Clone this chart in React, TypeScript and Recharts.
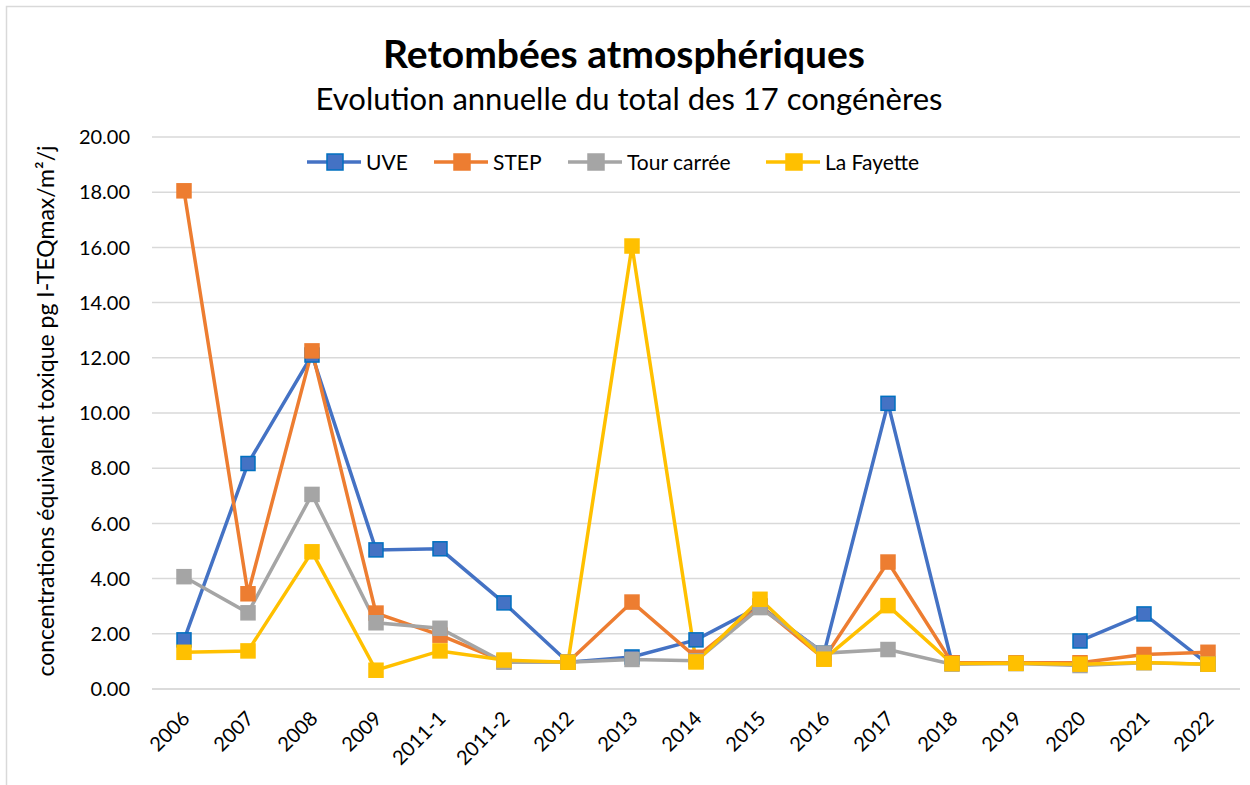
import React from "react";
import { LineChart, Line, XAxis, YAxis, CartesianGrid } from "recharts";

const categories = ["2006","2007","2008","2009","2011-1","2011-2","2012","2013","2014","2015","2016","2017","2018","2019","2020","2021","2022"];
const uve: (number | null)[] = [1.78,8.17,12.1,5.04,5.08,3.12,0.97,1.16,1.78,3.0,1.3,10.35,0.95,null,1.74,2.72,0.9];
const step: (number | null)[] = [18.05,3.45,12.25,2.75,1.95,1.0,0.97,3.15,1.15,3.0,1.1,4.6,0.95,0.95,0.95,1.25,1.33];
const tour: (number | null)[] = [4.07,2.76,7.05,2.4,2.2,0.97,0.97,1.07,1.02,2.95,1.3,1.43,0.9,0.92,0.85,0.95,0.9];
const fayette: (number | null)[] = [1.33,1.38,4.97,0.68,1.38,1.05,0.97,16.05,0.98,3.25,1.08,3.02,0.92,0.93,0.9,0.96,0.9];
const yTicks = [0,2,4,6,8,10,12,14,16,18,20];

const seriesDefs = [
  { key: "UVE", color: "#4472C4", border: "#0070C0", values: uve },
  { key: "STEP", color: "#ED7D31", border: "#ED7D31", values: step },
  { key: "Tour carrée", color: "#A5A5A5", border: "#A5A5A5", values: tour },
  { key: "La Fayette", color: "#FFC000", border: "#FFC000", values: fayette },
];

const data = categories.map((c, i) => {
  const row: Record<string, any> = { cat: c };
  seriesDefs.forEach((s) => (row[s.key] = s.values[i]));
  return row;
});

const FONT = "Lato, 'Open Sans', sans-serif";

const makeDot = (fill: string, stroke: string) => (props: any) => {
  const { cx, cy, value, index } = props;
  if (value == null || cx == null || cy == null) return <g key={index} />;
  return (
    <rect key={index} x={cx - 7} y={cy - 7} width={14} height={14} fill={fill} stroke={stroke} strokeWidth={1.5} />
  );
};

const XTick = (props: any) => {
  const { x, y, payload } = props;
  return (
    <g transform={`translate(${x - 3},${y + 13})`}>
      <text x={0} y={0} dy="0.7em" textAnchor="end" transform="rotate(-45)" fontSize={20} fill="#000" fontFamily={FONT}>
        {payload.value}
      </text>
    </g>
  );
};

const legendItems = [
  { x: 307, label: "UVE" },
  { x: 434, label: "STEP" },
  { x: 568, label: "Tour carrée" },
  { x: 766, label: "La Fayette" },
];

const Overlay = () => (
  <svg width={1250} height={785} style={{ position: "absolute", left: 0, top: 0, pointerEvents: "none" }}>
    <rect x={6.5} y={6.5} width={1260} height={800} fill="none" stroke="#d9d9d9" strokeWidth={1.5} />
    <text x={624} y={68} textAnchor="middle" fontSize={39} fontWeight={700} fontFamily={FONT} fill="#000">
      Retombées atmosphériques
    </text>
    <text x={629} y={110} textAnchor="middle" fontSize={31} fontFamily={FONT} fill="#000">
      Evolution annuelle du total des 17 congénères
    </text>
    <text
      x={0}
      y={0}
      transform="translate(54,411) rotate(-90)"
      textAnchor="middle"
      fontSize={23}
      fontFamily={FONT}
      fill="#000"
    >
      concentrations équivalent toxique pg I-TEQmax/m²/j
    </text>
    {legendItems.map((it, i) => {
      const s = seriesDefs[i];
      return (
        <g key={it.label}>
          <line x1={it.x} x2={it.x + 54} y1={162} y2={162} stroke={s.color} strokeWidth={3.5} />
          <rect x={it.x + 20} y={154} width={16} height={16} fill={s.color} stroke={s.border} strokeWidth={1.5} />
          <text x={it.x + 59} y={162} dy="0.36em" fontSize={21} fontFamily={FONT} fill="#000">
            {it.label}
          </text>
        </g>
      );
    })}
  </svg>
);

export default function App() {
  return (
    <div style={{ position: "absolute", left: 0, top: 0, width: 1250, height: 785, background: "#fff", fontFamily: FONT }}>
      <div style={{ position: "absolute", left: 0, top: 0 }}>
        <LineChart width={1250} height={785} data={data} margin={{ top: 137, right: 10, bottom: 0, left: 0 }}>
          <CartesianGrid vertical={false} stroke="#d9d9d9" strokeWidth={1.5} />
          <XAxis
            dataKey="cat"
            padding={{ left: 32, right: 32 }}
            axisLine={{ stroke: "#d9d9d9", strokeWidth: 1.5 }}
            tickLine={false}
            tick={<XTick />}
            interval={0}
            height={96}
          />
          <YAxis
            width={152}
            domain={[0, 20]}
            ticks={yTicks}
            axisLine={false}
            tickLine={false}
            tickSize={0}
            tickMargin={22}
            tickFormatter={(v: number) => v.toFixed(2)}
            tick={{ fontSize: 20, fill: "#000", fontFamily: FONT }}
          />
          {seriesDefs.map((s) => (
            <Line
              key={s.key}
              dataKey={s.key}
              stroke={s.color}
              strokeWidth={3.5}
              isAnimationActive={false}
              connectNulls={false}
              dot={makeDot(s.color, s.border)}
              activeDot={false}
            />
          ))}
        </LineChart>
      </div>
      <Overlay />
    </div>
  );
}
